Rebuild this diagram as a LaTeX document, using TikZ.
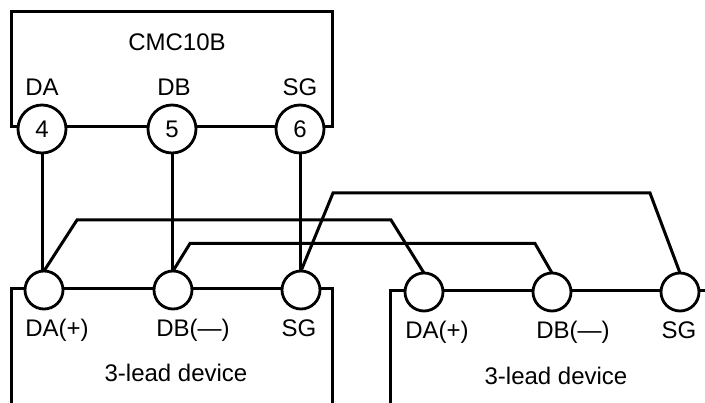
\documentclass[tikz,border=0pt]{standalone}
\usepackage{fontspec}
\setmainfont{Liberation Sans}
\tikzset{
  wire/.style={line width=3pt,line cap=butt,line join=miter,black},
  bigpin/.style={circle,draw=black,line width=2.8pt,fill=white,minimum size=48pt,inner sep=0pt,outer sep=0pt,font=\fontsize{24}{28}\selectfont},
  smallpin/.style={circle,draw=black,line width=2.8pt,fill=white,minimum size=38pt,inner sep=0pt,outer sep=0pt},
  lbl/.style={anchor=base,inner sep=0pt,outer sep=0pt,text=black,font=\fontsize{24}{28}\selectfont}
}
\begin{document}
\begin{tikzpicture}[x=1pt,y=-1pt]
\useasboundingbox (0,0) rectangle (705,403);
% box outlines
\draw[wire] (42,127) -- (11,127) -- (11,12) -- (332,12) -- (332,127) -- (300,127);
\draw[wire] (42,127) -- (300,127);
\draw[wire] (11,403) -- (11,289) -- (332,289) -- (332,403);
\draw[wire] (390,403) -- (390,291) -- (705,291);
% pins
\node[bigpin] (p4) at (42,129) {4};
\node[bigpin] (p5) at (172,129) {5};
\node[bigpin] (p6) at (300,129) {6};
\node[smallpin] (a1) at (44,290) {};
\node[smallpin] (b1) at (173,290) {};
\node[smallpin] (s1) at (301,290) {};
\node[smallpin] (a2) at (424,292) {};
\node[smallpin] (b2) at (552,292) {};
\node[smallpin] (s2) at (680,292) {};
% bends
\coordinate (a1u) at (77,220);
\coordinate (a2u) at (391,220);
\coordinate (b1u) at (190,243.5);
\coordinate (b2u) at (535,243.5);
\coordinate (s1u) at (333,193);
\coordinate (s2u) at (650,193);
% connectors
\draw[wire] (p4.south) -- (p4.south |- a1.north);
\draw[wire] (p5.south) -- (p5.south |- b1.north);
\draw[wire] (p6.south) -- (p6.south |- s1.north);
\draw[wire] (a1.north) -- (a1u) -- (a2u) -- (a2.north);
\draw[wire] (b1.north) -- (b1u) -- (b2u) -- (b2.north);
\draw[wire] (s1.north) -- (s1u) -- (s2u) -- (s2.north);
% labels
\node[lbl] (t1) at (177,51) {CMC10B};
\node[lbl] (t2) at (42,95.5) {DA};
\node[lbl] (t3) at (174,96) {DB};
\node[lbl] (t4) at (300,95.5) {SG};
\node[lbl] (t5) at (57,336.5) {DA(+)};
\node[lbl] (t6) at (193,336.5) {DB(—)};
\node[lbl] (t7) at (299,336.5) {SG};
\node[lbl] (t8) at (176,381.5) {3-lead device};
\node[lbl] (t9) at (437,338.5) {DA(+)};
\node[lbl] (t10) at (573,338.5) {DB(—)};
\node[lbl] (t11) at (679,338.5) {SG};
\node[lbl] (t12) at (556,384.5) {3-lead device};
\end{tikzpicture}
\end{document}
